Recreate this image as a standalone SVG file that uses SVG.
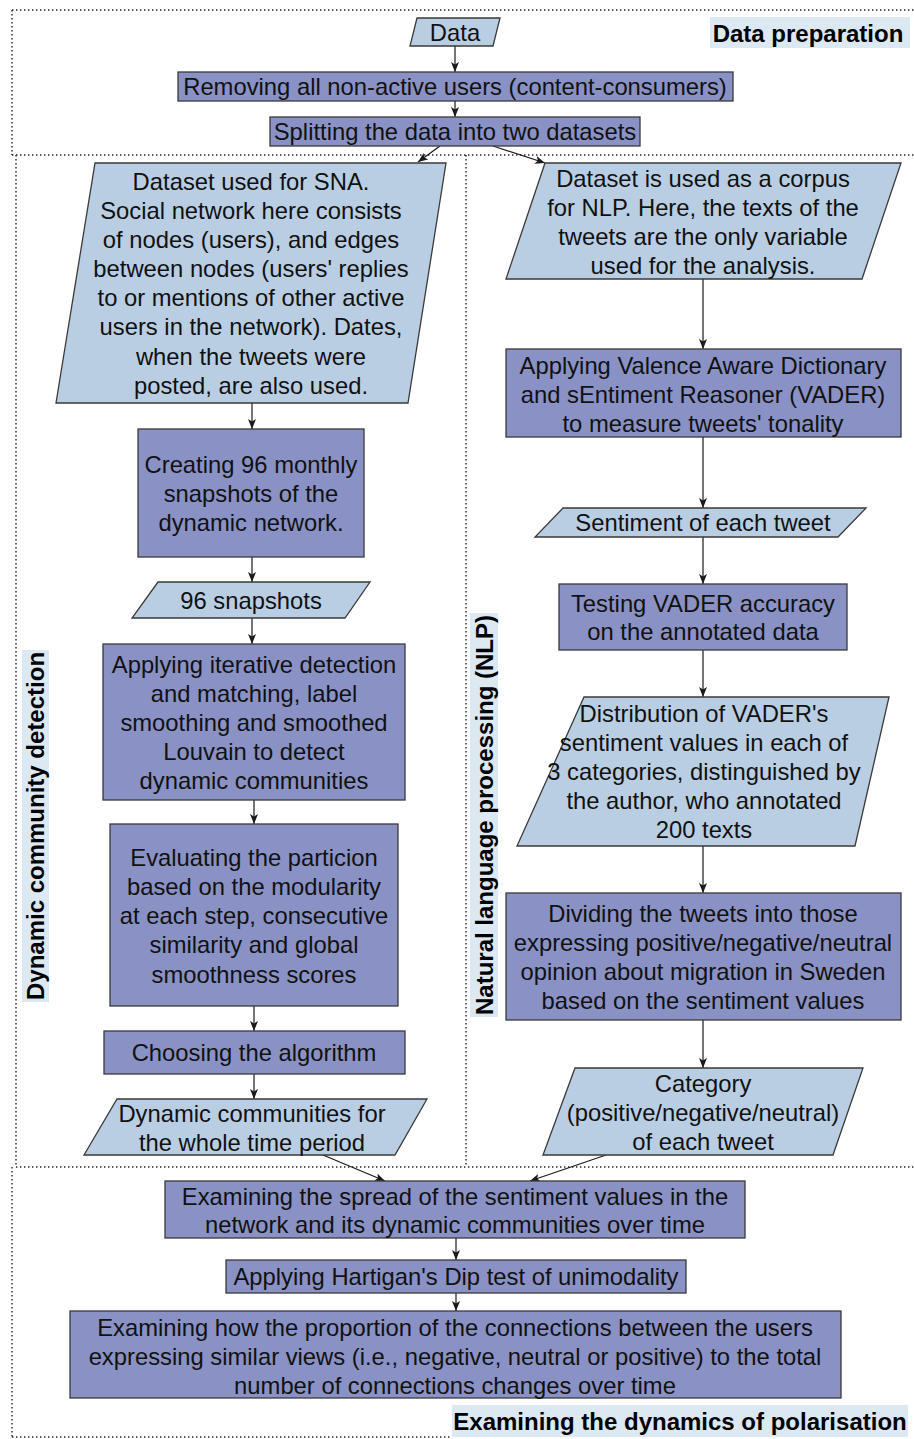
<svg xmlns="http://www.w3.org/2000/svg" width="914" height="1439" viewBox="0 0 914 1439">
<defs>
<marker id="arr" viewBox="0 0 10 8" refX="10" refY="4" markerWidth="10" markerHeight="8" markerUnits="userSpaceOnUse" orient="auto">
<path d="M0,0 L10,4 L0,8 L2.5,4 z" fill="#1a1a1a"/>
</marker>
<style>
.io{fill:#b9cee3;stroke:#3a3a3a;stroke-width:1.3}
.pr{fill:#8a91c5;stroke:#3a3a3a;stroke-width:1.3}
.t{font-family:"Liberation Sans",Arial,sans-serif;font-size:23.8px;fill:#111;text-anchor:middle}
.lb{font-family:"Liberation Sans",Arial,sans-serif;font-size:24px;font-weight:bold;fill:#000;text-anchor:middle}
.lbg{fill:#dce8f2}
.dot{fill:none;stroke:#222;stroke-width:1.4;stroke-dasharray:1.4 2.6}
.c{fill:none;stroke:#1a1a1a;stroke-width:1.2;marker-end:url(#arr)}
</style>
</defs>
<g id="sections">
<path class="dot" d="M12,10 H914 M12,10 V155 M12,155 H914 M16,155 V1167 M466,155 V1167 M16,1167 H914 M12,1167 V1437 M12,1437 H452"/>
<rect class="lbg" x="710" y="17" width="200" height="31"/>
<text class="lb" x="808" y="42">Data preparation</text>
<rect class="lbg" x="22" y="650" width="27" height="352"/>
<text class="lb" transform="translate(44,826) rotate(-90)" x="0" y="0">Dynamic community detection</text>
<rect class="lbg" x="470" y="613" width="28" height="404"/>
<text class="lb" transform="translate(493,815) rotate(-90)" x="0" y="0">Natural language processing (NLP)</text>
<rect class="lbg" x="452" y="1405" width="456" height="32"/>
<text class="lb" x="680" y="1430">Examining the dynamics of polarisation</text>
</g>
<g id="connectors">
<path class="c" d="M455,46 V72"/>
<path class="c" d="M455,101 V117"/>
<path class="c" d="M440,146 L418,162"/>
<path class="c" d="M493,146 L545,163"/>
<path class="c" d="M252,403 V429"/>
<path class="c" d="M252,557 V582"/>
<path class="c" d="M252,618 V644"/>
<path class="c" d="M254,800 V824"/>
<path class="c" d="M254,1006 V1031"/>
<path class="c" d="M254,1074 V1099"/>
<path class="c" d="M703,279 V349"/>
<path class="c" d="M703,437 V508"/>
<path class="c" d="M703,537 V584"/>
<path class="c" d="M703,650 V697"/>
<path class="c" d="M703,846 V893"/>
<path class="c" d="M703,1020 V1068"/>
<path class="c" d="M323,1155 L385,1181"/>
<path class="c" d="M606,1155 L530,1181"/>
<path class="c" d="M456,1238 V1260"/>
<path class="c" d="M456,1293 V1311"/>
</g>
<g id="data">
<polygon class="io" points="417,18 500,18 493,46 410,46"/>
<text class="t" x="455" y="41">Data</text>
</g>
<g id="removing">
<rect class="pr" x="178" y="72" width="555" height="29"/>
<text class="t" x="455" y="95">Removing all non-active users (content-consumers)</text>
</g>
<g id="splitting">
<rect class="pr" x="270" y="117" width="370" height="29"/>
<text class="t" x="455" y="140">Splitting the data into two datasets</text>
</g>
<g id="sna-dataset">
<polygon class="io" points="95,163 446,163 408,403 56,403"/>
<text class="t" x="251" y="190">Dataset used for SNA.</text>
<text class="t" x="251" y="219">Social network here consists</text>
<text class="t" x="251" y="248">of nodes (users), and edges</text>
<text class="t" x="251" y="277">between nodes (users' replies</text>
<text class="t" x="251" y="306">to or mentions of other active</text>
<text class="t" x="251" y="335">users in the network). Dates,</text>
<text class="t" x="251" y="365">when the tweets were</text>
<text class="t" x="251" y="394">posted, are also used.</text>
</g>
<g id="creating">
<rect class="pr" x="138" y="429" width="226" height="128"/>
<text class="t" x="251" y="473">Creating 96 monthly</text>
<text class="t" x="251" y="502">snapshots of the</text>
<text class="t" x="251" y="531">dynamic network.</text>
</g>
<g id="snapshots">
<polygon class="io" points="158,582 370,582 345,618 132,618"/>
<text class="t" x="251" y="609">96 snapshots</text>
</g>
<g id="applying-iterative">
<rect class="pr" x="103" y="644" width="302" height="156"/>
<text class="t" x="254" y="673">Applying iterative detection</text>
<text class="t" x="254" y="702">and matching, label</text>
<text class="t" x="254" y="731">smoothing and smoothed</text>
<text class="t" x="254" y="760">Louvain to detect</text>
<text class="t" x="254" y="789">dynamic communities</text>
</g>
<g id="evaluating">
<rect class="pr" x="110" y="824" width="288" height="182"/>
<text class="t" x="254" y="866">Evaluating the particion</text>
<text class="t" x="254" y="895">based on the modularity</text>
<text class="t" x="254" y="924">at each step, consecutive</text>
<text class="t" x="254" y="953">similarity and global</text>
<text class="t" x="254" y="983">smoothness scores</text>
</g>
<g id="choosing">
<rect class="pr" x="104" y="1031" width="301" height="43"/>
<text class="t" x="254" y="1061">Choosing the algorithm</text>
</g>
<g id="dynamic-communities">
<polygon class="io" points="117,1099 427,1099 395,1155 84,1155"/>
<text class="t" x="252" y="1122">Dynamic communities for</text>
<text class="t" x="252" y="1151">the whole time period</text>
</g>
<g id="nlp-dataset">
<polygon class="io" points="545,163 901,163 862,279 506,279"/>
<text class="t" x="703" y="187">Dataset is used as a corpus</text>
<text class="t" x="703" y="216">for NLP. Here, the texts of the</text>
<text class="t" x="703" y="245">tweets are the only variable</text>
<text class="t" x="703" y="274">used for the analysis.</text>
</g>
<g id="vader">
<rect class="pr" x="506" y="349" width="395" height="88"/>
<text class="t" x="703" y="374">Applying Valence Aware Dictionary</text>
<text class="t" x="703" y="403">and sEntiment Reasoner (VADER)</text>
<text class="t" x="703" y="432">to measure tweets' tonality</text>
</g>
<g id="sentiment">
<polygon class="io" points="563,508 866,508 838,537 535,537"/>
<text class="t" x="703" y="531">Sentiment of each tweet</text>
</g>
<g id="testing">
<rect class="pr" x="559" y="584" width="288" height="66"/>
<text class="t" x="703" y="612">Testing VADER accuracy</text>
<text class="t" x="703" y="640">on the annotated data</text>
</g>
<g id="distribution">
<polygon class="io" points="584,697 889,697 855,846 517,846"/>
<text class="t" x="704" y="722">Distribution of VADER's</text>
<text class="t" x="704" y="751">sentiment values in each of</text>
<text class="t" x="704" y="780">3 categories, distinguished by</text>
<text class="t" x="704" y="809">the author, who annotated</text>
<text class="t" x="704" y="838">200 texts</text>
</g>
<g id="dividing">
<rect class="pr" x="506" y="893" width="395" height="127"/>
<text class="t" x="703" y="922">Dividing the tweets into those</text>
<text class="t" x="703" y="951">expressing positive/negative/neutral</text>
<text class="t" x="703" y="980">opinion about migration in Sweden</text>
<text class="t" x="703" y="1009">based on the sentiment values</text>
</g>
<g id="category">
<polygon class="io" points="575,1068 863,1068 833,1155 543,1155"/>
<text class="t" x="703" y="1092">Category</text>
<text class="t" x="703" y="1121">(positive/negative/neutral)</text>
<text class="t" x="703" y="1150">of each tweet</text>
</g>
<g id="spread">
<rect class="pr" x="165" y="1181" width="580" height="57"/>
<text class="t" x="455" y="1205">Examining the spread of the sentiment values in the</text>
<text class="t" x="455" y="1233">network and its dynamic communities over time</text>
</g>
<g id="hartigan">
<rect class="pr" x="226" y="1260" width="460" height="33"/>
<text class="t" x="456" y="1285">Applying Hartigan's Dip test of unimodality</text>
</g>
<g id="proportion">
<rect class="pr" x="70" y="1311" width="771" height="87"/>
<text class="t" x="455" y="1336">Examining how the proportion of the connections between the users</text>
<text class="t" x="455" y="1365">expressing similar views (i.e., negative, neutral or positive) to the total</text>
<text class="t" x="455" y="1394">number of connections changes over time</text>
</g>
</svg>
